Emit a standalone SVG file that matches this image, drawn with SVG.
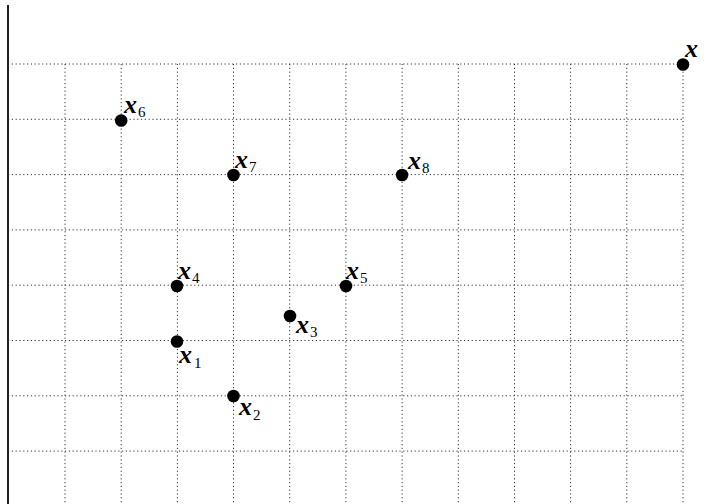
<svg xmlns="http://www.w3.org/2000/svg" width="706" height="504" viewBox="0 0 706 504">
<style>
.g{stroke:#333;stroke-width:1;stroke-dasharray:1.2 2.6;fill:none}
.ax{stroke:#222;stroke-width:2;fill:none}
.pt{fill:#000}
text{font-family:'Liberation Serif','Times New Roman','DejaVu Serif',serif;fill:#000}
.lb{font-style:italic;font-weight:bold;font-size:26px}
.sb{font-style:normal;font-size:15px}
</style>
<rect width="706" height="504" fill="#fff"/>
<g id="grid">
<line class="g" x1="8" y1="64" x2="683" y2="64"/>
<line class="g" x1="8" y1="119.3" x2="683" y2="119.3"/>
<line class="g" x1="8" y1="174.6" x2="683" y2="174.6"/>
<line class="g" x1="8" y1="229.9" x2="683" y2="229.9"/>
<line class="g" x1="8" y1="285.2" x2="683" y2="285.2"/>
<line class="g" x1="8" y1="340.5" x2="683" y2="340.5"/>
<line class="g" x1="8" y1="395.8" x2="683" y2="395.8"/>
<line class="g" x1="8" y1="451.1" x2="683" y2="451.1"/>
<line class="g" x1="65" y1="64" x2="65" y2="504"/>
<line class="g" x1="121.2" y1="64" x2="121.2" y2="504"/>
<line class="g" x1="177.4" y1="64" x2="177.4" y2="504"/>
<line class="g" x1="233.5" y1="64" x2="233.5" y2="504"/>
<line class="g" x1="289.7" y1="64" x2="289.7" y2="504"/>
<line class="g" x1="345.9" y1="64" x2="345.9" y2="504"/>
<line class="g" x1="402.1" y1="64" x2="402.1" y2="504"/>
<line class="g" x1="458.3" y1="64" x2="458.3" y2="504"/>
<line class="g" x1="514.5" y1="64" x2="514.5" y2="504"/>
<line class="g" x1="570.6" y1="64" x2="570.6" y2="504"/>
<line class="g" x1="626.8" y1="64" x2="626.8" y2="504"/>
<line class="g" x1="683" y1="64" x2="683" y2="504"/>
<line class="ax" x1="8" y1="5" x2="8" y2="504"/>
</g>
<g id="p-x"><circle class="pt" cx="683" cy="64.5" r="6.3"/><text class="lb" x="685" y="57">x</text></g>
<g id="p-x6"><circle class="pt" cx="121.2" cy="120.5" r="6.3"/><text class="lb" x="124" y="113">x</text><text class="sb" x="138" y="117">6</text></g>
<g id="p-x7"><circle class="pt" cx="233.5" cy="175" r="6.3"/><text class="lb" x="235" y="168">x</text><text class="sb" x="249" y="172">7</text></g>
<g id="p-x8"><circle class="pt" cx="402.1" cy="175" r="6.3"/><text class="lb" x="408" y="169">x</text><text class="sb" x="422" y="173">8</text></g>
<g id="p-x4"><circle class="pt" cx="177" cy="286" r="6.3"/><text class="lb" x="178" y="279">x</text><text class="sb" x="192" y="283">4</text></g>
<g id="p-x5"><circle class="pt" cx="346" cy="286" r="6.3"/><text class="lb" x="346" y="279">x</text><text class="sb" x="360" y="283">5</text></g>
<g id="p-x3"><circle class="pt" cx="290" cy="316" r="6.3"/><text class="lb" x="296" y="333">x</text><text class="sb" x="310" y="337">3</text></g>
<g id="p-x1"><circle class="pt" cx="177" cy="341.5" r="6.3"/><text class="lb" x="179" y="363">x</text><text class="sb" x="194" y="368">1</text></g>
<g id="p-x2"><circle class="pt" cx="233.5" cy="396" r="6.3"/><text class="lb" x="239" y="415">x</text><text class="sb" x="253" y="420">2</text></g>
</svg>
